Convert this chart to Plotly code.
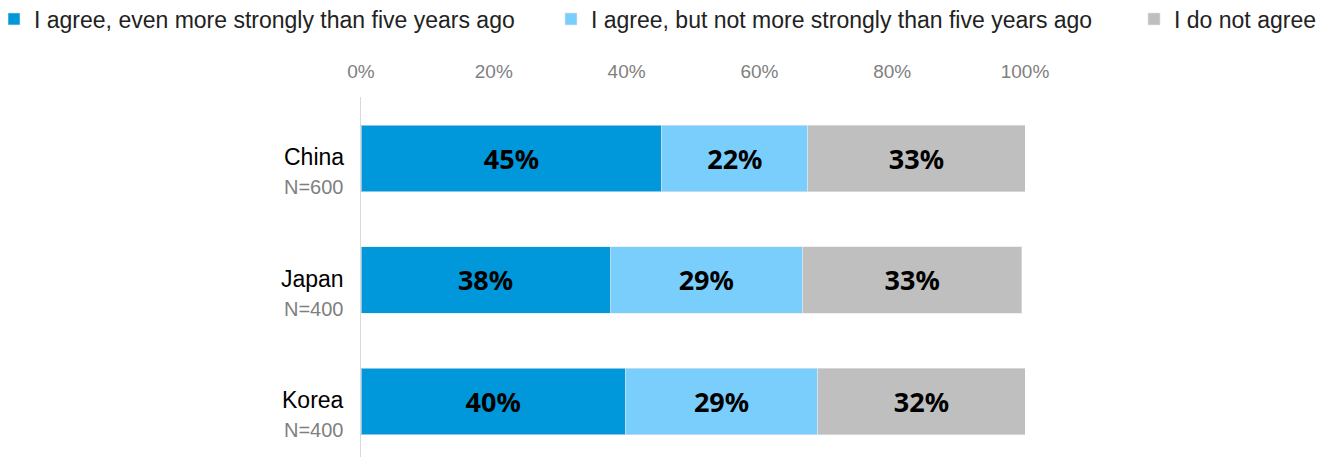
import plotly.graph_objects as go

countries = ["China", "Japan", "Korea"]
sample_sizes = ["N=600", "N=400", "N=400"]
series_names = [
    "I agree, even more strongly than five years ago",
    "I agree, but not more strongly than five years ago",
    "I do not agree",
]
agree_more = [45.3, 37.5, 39.8]
agree_same = [22.0, 29.0, 29.0]
disagree = [32.7, 33.0, 31.2]
label_more = ["45%", "38%", "40%"]
label_same = ["22%", "29%", "29%"]
label_dis = ["33%", "33%", "32%"]
colors = ["#0098DA", "#7ACEFC", "#BFBFBF"]

tick_vals = [0, 20, 40, 60, 80, 100]
tick_text = ["0%", "20%", "40%", "60%", "80%", "100%"]

legend_ids = ["legend", "legend2", "legend3"]
legend_x = [-0.5527, 0.2861, 1.1642]

fig = go.Figure()
for name, vals, labs, col, lg in zip(series_names, [agree_more, agree_same, disagree],
                                     [label_more, label_same, label_dis], colors, legend_ids):
    fig.add_trace(go.Bar(
        y=countries, x=vals, name=name, orientation="h", legend=lg,
        marker=dict(color=col, line=dict(width=1, color="rgba(230,230,230,0.6)")),
        text=labs, textposition="inside", insidetextanchor="middle",
        textfont=dict(family="Noto Sans", size=27, color="black", weight="bold"),
        textangle=0, hoverinfo="skip",
    ))

for c, n in zip(countries, sample_sizes):
    fig.add_annotation(x=0, xref="paper", y=c, yref="y", text=c, showarrow=False,
                       xanchor="right", xshift=-15, yshift=1,
                       font=dict(family="Liberation Sans, Arial", size=23, color="black"))
    fig.add_annotation(x=0, xref="paper", y=c, yref="y", text=n, showarrow=False,
                       xanchor="right", xshift=-15, yshift=-29,
                       font=dict(family="Liberation Sans, Arial", size=20, color="#7f7f7f"))

legend_common = dict(orientation="h", xanchor="left", y=1.2167, yanchor="middle",
                     font=dict(family="Liberation Sans, Arial", size=23, color="#222"),
                     itemclick=False, bgcolor="rgba(0,0,0,0)")

fig.update_layout(
    width=1321, height=449,
    barmode="stack", bargap=0.45,
    plot_bgcolor="white", paper_bgcolor="white",
    margin=dict(l=353, r=304, t=89, b=0, autoexpand=False),
    showlegend=True,
    legend=dict(x=legend_x[0], **legend_common),
    legend2=dict(x=legend_x[1], **legend_common),
    legend3=dict(x=legend_x[2], **legend_common),
    xaxis=dict(side="top", range=[0, 100], tickvals=tick_vals, ticktext=tick_text,
               showgrid=False, zeroline=False, showline=False, ticks="",
               tickfont=dict(family="Liberation Sans Narrow, Arial Narrow, Liberation Sans", size=19, color="#808080"),
               ticklabelstandoff=14),
    yaxis=dict(range=[2.457, -0.506], showticklabels=False, showgrid=False, zeroline=False,
               showline=True, linecolor="#d9d9d9", linewidth=1, ticks=""),
)

fig.write_html("out.html")
